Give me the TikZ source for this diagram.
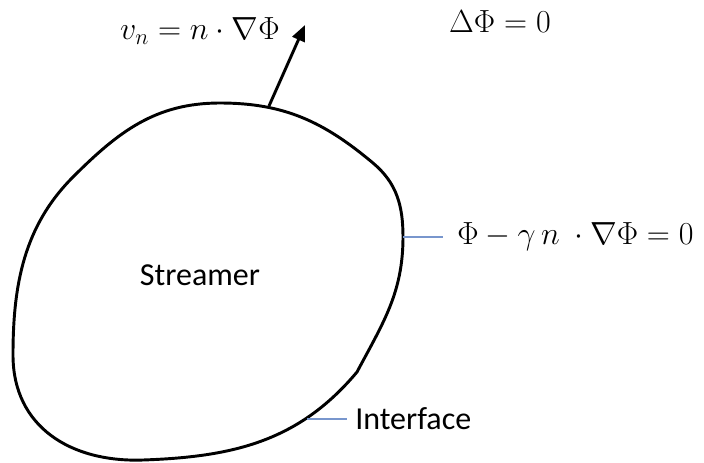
\RequirePackage{fix-cm}
\documentclass[tikz,border=0pt]{standalone}
\usepackage{fontspec}
\setmainfont{Carlito}
\usetikzlibrary{arrows.meta}
\definecolor{conn}{RGB}{120,150,205}
\begin{document}
\begin{tikzpicture}[x=0.75pt,y=-0.75pt,
  blob/.style={line width=2.2pt,line join=round},
  lbl/.style={font=\fontsize{24}{28}\selectfont,inner sep=0pt},
  leader/.style={conn,line width=1pt},
  arr/.style={line width=2.2pt,-{Triangle[length=12pt,width=10pt]}}]
\useasboundingbox (0,0) rectangle (704,462);
\coordinate (p1) at (220,103);
\coordinate (p2) at (373,163);
\coordinate (p3) at (403,237);
\coordinate (p4) at (357,372);
\coordinate (p5) at (143,460);
\coordinate (p6) at (13,355);
\coordinate (p7) at (73,177);
\draw[blob] (p1) to[out=0,in=140] (p2) to[out=-40,in=90] (p3)
  to[out=270,in=62] (p4) to[out=230,in=2] (p5)
  to[out=182,in=270,looseness=1.1] (p6) to[out=90,in=225,looseness=0.95] (p7)
  to[out=45,in=180] (p1) -- cycle;
\coordinate (base) at (269,106);
\coordinate (tip) at (305,25);
\coordinate (bc) at (403,237);
\coordinate (ic) at (307,419);
\draw[arr] (base) -- (tip);
\node[lbl] (vn) at (200,31) {$v_n = n\cdot\nabla\Phi$};
\node[lbl] (lap) at (500,22) {$\Delta\Phi = 0$};
\node[lbl,anchor=west] (bcl) at (457,237) {$\Phi-\gamma\, n\ \cdot\nabla\Phi = 0$};
\node[lbl] (str) at (200,275) {Streamer};
\node[lbl,anchor=west] (ifl) at (355,419) {Interface};
\draw[leader] (bc) -- (443,237);
\draw[leader] (ic) -- (347,419);
\end{tikzpicture}
\end{document}
